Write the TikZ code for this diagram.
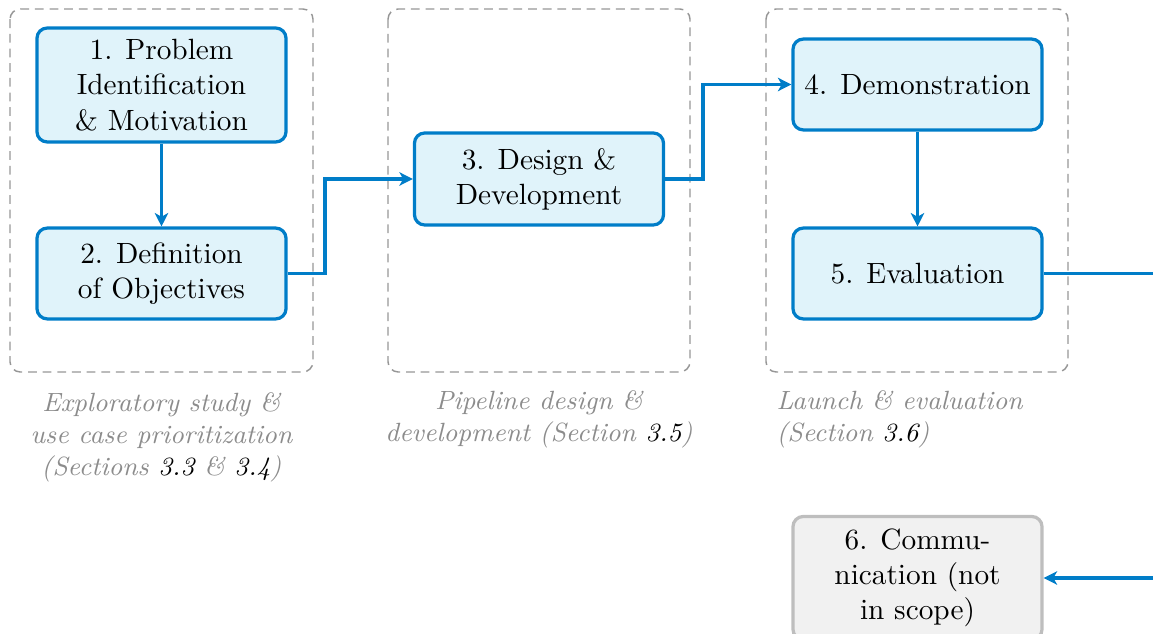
\documentclass[tikz,border=0pt]{standalone}
\usetikzlibrary{arrows.meta}
\definecolor{flowblue}{RGB}{0,125,200}
\definecolor{flowfill}{RGB}{224,243,250}
\definecolor{groupgray}{RGB}{150,150,150}
\definecolor{labelgray}{RGB}{140,140,140}
\definecolor{offfill}{RGB}{241,241,241}
\definecolor{offdraw}{RGB}{190,190,190}
\newcommand{\secref}[1]{{\color{black}#1}}
\tikzset{
  stage/.style={draw=flowblue, fill=flowfill, line width=1.1pt, rounded corners=3.5pt,
    align=center, minimum width=85pt, inner sep=2pt, font=\normalsize},
  offstage/.style={stage, draw=offdraw, fill=offfill},
  group/.style={draw=groupgray, line width=0.5pt, densely dashed, rounded corners=3.5pt},
  grouplabel/.style={font=\small\itshape, text=labelgray, inner sep=0pt},
  conn/.style={draw=flowblue, line width=1.2pt, -{Stealth[length=4.6pt,width=4.6pt,inset=1.3pt]}}
}
\begin{document}
\begin{tikzpicture}[x=0.3413pt, y=-0.3413pt]
  \useasboundingbox (0,0) rectangle (1153,634);

  % dashed phase groups
  \draw[group] (10,9) rectangle (313,372);
  \draw[group] (388,9) rectangle (690,372);
  \draw[group] (766,9) rectangle (1068,372);

  % process stages
  \node[stage, minimum height=38.9pt] (n1) at (161.5,85) {1. Problem\\Identification\\\& Motivation};
  \node[stage, minimum height=31pt] (n2) at (161.5,273.5) {2. Definition\\of Objectives};
  \node[stage, minimum height=31.4pt] (n3) at (539,179) {3. Design \&\\Development};
  \node[stage, minimum height=31pt] (n4) at (917.5,84.5) {4. Demonstration};
  \node[stage, minimum height=31pt] (n5) at (917.5,273.5) {5. Evaluation};
  \node[offstage, minimum height=42pt] (n6) at (917.5,578) {6. Commu-\\nication (not\\in scope)};

  % phase captions
  \node[grouplabel, align=center, anchor=north] (l1) at (161.5,392)
    {Exploratory study \&\\use case prioritization\\(Sections \secref{3.3} \& \secref{3.4})};
  \node[grouplabel, align=center, anchor=north] (l2) at (539,390)
    {Pipeline design \&\\development (Section \secref{3.5})};
  \node[grouplabel, align=left, anchor=north west] (l3) at (776,390)
    {Launch \& evaluation\\(Section \secref{3.6})};

  % bend points of the connectors
  \coordinate (j1) at (325,0);
  \coordinate (j2) at (703,0);
  \coordinate (j3) at (1180,0);

  % connectors
  \draw[conn] (n1) -- (n2);
  \draw[conn] (n2.east) -- (n2.east -| j1) |- (n3.west);
  \draw[conn] (n3.east) -- (n3.east -| j2) |- (n4.west);
  \draw[conn] (n4) -- (n5);
  \draw[conn] (n5.east) -- (n5.east -| j3) |- (n6.east);
\end{tikzpicture}
\end{document}
